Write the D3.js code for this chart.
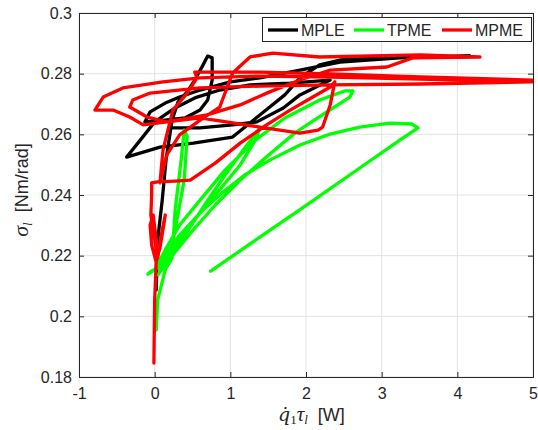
<!DOCTYPE html>
<html>
<head>
<meta charset="utf-8">
<script src="https://cdn.jsdelivr.net/npm/d3@7/dist/d3.min.js"></script>
<style>
  body { margin: 0; background: #fff; }
  text { font-family: "Liberation Sans", Arial, sans-serif; fill: #262626; }
</style>
</head>
<body>
<div id="chart"></div>
<script>
// series names / colours order as in legend
var seriesNames = ["MPLE", "TPME", "MPME"];
var seriesColors = ["#000000", "#00ff00", "#ff0000"];

var xTicks = [-1, 0, 1, 2, 3, 4, 5];
var yTicks = [0.18, 0.2, 0.22, 0.24, 0.26, 0.28, 0.3];

// MPLE (black)
var mpleX = [0.02, 0.04, 0.10, 0.15, 0.23, 0.31, 0.43, 0.53, 0.64, 0.70, 0.76, 0.76, 0.70, 0.60, 0.40, 0.14, -0.13, -0.06, 0.14, 0.33, 0.60, 1.00, 1.39, 1.92, 2.45, 3.24, 4.17, 3.24, 2.45, 2.18, 1.92, 1.72, 1.39, 1.03, 0.51, 0.07, -0.37, -0.19, 0.00, 0.27, 0.53, 0.86, 1.26, 1.79, 2.32, 1.92, 1.70, 1.35, 1.03, 0.60, 0.20];
var mpleY = [0.2087, 0.2252, 0.2383, 0.2515, 0.2647, 0.2707, 0.2740, 0.2779, 0.2829, 0.2858, 0.2852, 0.2779, 0.2713, 0.2680, 0.2654, 0.2647, 0.2641, 0.2674, 0.2703, 0.2723, 0.2746, 0.2773, 0.2786, 0.2812, 0.2838, 0.2852, 0.2858, 0.2855, 0.2845, 0.2829, 0.2786, 0.2730, 0.2664, 0.2591, 0.2571, 0.2558, 0.2525, 0.2581, 0.2641, 0.2687, 0.2720, 0.2746, 0.2763, 0.2769, 0.2779, 0.2730, 0.2687, 0.2641, 0.2631, 0.2621, 0.2621];

// TPME (green)
var tpmeX = [0.74, 1.39, 2.05, 2.71, 3.24, 3.48, 3.40, 3.11, 2.71, 2.32, 1.92, 1.52, 1.19, 0.89, 0.60, 0.33, 0.14, 0.03, -0.06, -0.09, 0.00, 0.14, 0.33, 0.60, 0.93, 1.33, 1.72, 2.18, 2.51, 2.62, 2.58, 2.25, 1.85, 1.46, 1.13, 0.80, 0.53, 0.27, 0.10, 0.04, 0.14, 0.40, 0.66, 0.93, 1.19, 1.39, 1.33, 1.13, 0.80, 0.47, 0.20, 0.07, 0.15, 0.23, 0.27, 0.35, 0.39, 0.43, 0.39, 0.27, 0.14, 0.04, 0.02];
var tpmeY = [0.2149, 0.2261, 0.2374, 0.2489, 0.2581, 0.2621, 0.2634, 0.2637, 0.2624, 0.2601, 0.2565, 0.2515, 0.2466, 0.2407, 0.2341, 0.2268, 0.2202, 0.2159, 0.2146, 0.2139, 0.2153, 0.2219, 0.2301, 0.2383, 0.2482, 0.2581, 0.2654, 0.2713, 0.2743, 0.2743, 0.2723, 0.2670, 0.2604, 0.2522, 0.2449, 0.2367, 0.2291, 0.2212, 0.2159, 0.2136, 0.2169, 0.2268, 0.2367, 0.2466, 0.2555, 0.2621, 0.2581, 0.2499, 0.2400, 0.2301, 0.2212, 0.2159, 0.2159, 0.2192, 0.2350, 0.2515, 0.2614, 0.2594, 0.2449, 0.2285, 0.2153, 0.2054, 0.1955];

// MPME (red)
var mpmeX = [-0.01, 0.00, 0.02, -0.04, -0.06, -0.02, 0.03, 0.03, 0.07, 0.12, 0.14, 0.10, 0.04, 0.00, -0.05, -0.04, -0.04, 0.04, 0.27, 0.47, 0.80, 1.13, 1.48, 1.79, 2.09, 2.32, 2.38, 2.32, 2.22, 2.16, 1.92, 1.39, 0.60, 0.03, -0.15, -0.33, -0.55, -0.79, -0.68, -0.42, 0.11, 0.60, 1.39, 2.32, 3.51, 4.99, 3.51, 2.32, 1.39, 0.60, -0.06, -0.29, -0.33, -0.10, 0.16, 0.69, 1.13, 1.52, 1.92, 2.32, 3.07, 3.41, 4.30, 3.51, 2.18, 1.56, 1.26, 1.03, 0.86, 0.60, 0.33, 0.16, 0.07, 0.11, 0.24, 0.43, 0.56, 0.53, 1.39, 2.32, 3.51, 4.99];
var mpmeY = [0.1846, 0.2054, 0.2179, 0.2235, 0.2301, 0.2334, 0.2235, 0.2192, 0.2225, 0.2301, 0.2334, 0.2285, 0.2192, 0.2252, 0.2334, 0.2400, 0.2440, 0.2443, 0.2446, 0.2449, 0.2505, 0.2571, 0.2631, 0.2680, 0.2723, 0.2756, 0.2773, 0.2697, 0.2624, 0.2614, 0.2604, 0.2624, 0.2654, 0.2637, 0.2631, 0.2657, 0.2680, 0.2680, 0.2723, 0.2753, 0.2773, 0.2786, 0.2792, 0.2789, 0.2782, 0.2773, 0.2766, 0.2763, 0.2759, 0.2753, 0.2736, 0.2713, 0.2690, 0.2657, 0.2641, 0.2664, 0.2697, 0.2740, 0.2779, 0.2812, 0.2822, 0.2852, 0.2855, 0.2862, 0.2855, 0.2868, 0.2855, 0.2802, 0.2690, 0.2647, 0.2598, 0.2532, 0.2440, 0.2548, 0.2680, 0.2736, 0.2786, 0.2805, 0.2805, 0.2799, 0.2789, 0.2779];

var W = 538, H = 430;
var margin = { left: 79, right: 5, top: 13, bottom: 53 };
var pw = W - margin.left - margin.right;
var ph = H - margin.top - margin.bottom;

var svg = d3.select("#chart").append("svg")
    .attr("width", W)
    .attr("height", H);

var x = d3.scaleLinear().domain([-1, 5]).range([0, pw]);
var y = d3.scaleLinear().domain([0.18, 0.3]).range([ph, 0]);

var g = svg.append("g").attr("transform", "translate(" + margin.left + "," + margin.top + ")");

// grid
g.append("g").selectAll("line").data(xTicks).enter().append("line")
    .attr("x1", function (d) { return x(d); })
    .attr("x2", function (d) { return x(d); })
    .attr("y1", 0).attr("y2", ph)
    .attr("stroke", "#e3e3e3").attr("stroke-width", 1);
g.append("g").selectAll("line").data(yTicks).enter().append("line")
    .attr("y1", function (d) { return y(d); })
    .attr("y2", function (d) { return y(d); })
    .attr("x1", 0).attr("x2", pw)
    .attr("stroke", "#e3e3e3").attr("stroke-width", 1);

// curves
var series = [
    { xs: mpleX, ys: mpleY },
    { xs: tpmeX, ys: tpmeY },
    { xs: mpmeX, ys: mpmeY }
];
var line = d3.line()
    .x(function (d) { return x(d[0]); })
    .y(function (d) { return y(d[1]); });

series.forEach(function (s, i) {
    var pts = s.xs.map(function (v, k) { return [v, s.ys[k]]; });
    g.append("path")
        .datum(pts)
        .attr("d", line)
        .attr("fill", "none")
        .attr("stroke", seriesColors[i])
        .attr("stroke-width", 3.3)
        .attr("stroke-linejoin", "round")
        .attr("stroke-linecap", "round");
});

// axes (MATLAB box style, ticks inward)
var tickLen = 5;
var fmt = function (d) { return String(+d.toFixed(2)); };

var xAxis = g.append("g").attr("transform", "translate(0," + ph + ")")
    .call(d3.axisBottom(x).tickValues(xTicks).tickSize(-tickLen).tickPadding(11).tickFormat(fmt));
var xTop = g.append("g")
    .call(d3.axisTop(x).tickValues(xTicks).tickSize(-tickLen).tickFormat(""));
var yAxis = g.append("g")
    .call(d3.axisLeft(y).tickValues(yTicks).tickSize(-tickLen).tickPadding(7).tickFormat(fmt));
var yRight = g.append("g").attr("transform", "translate(" + pw + ",0)")
    .call(d3.axisRight(y).tickValues(yTicks).tickSize(-tickLen).tickFormat(""));

[xAxis, xTop, yAxis, yRight].forEach(function (a) {
    a.select(".domain").attr("stroke", "#262626").attr("stroke-width", 1);
    a.selectAll(".tick line").attr("stroke", "#262626");
    a.selectAll("text").attr("font-size", 16).attr("fill", "#262626")
        .attr("font-family", "'Liberation Sans', Arial, sans-serif");
});

// axis labels
var xl = svg.append("text")
    .attr("x", 278).attr("y", 421)
    .attr("font-size", 18);
xl.append("tspan").attr("font-family", "'DejaVu Serif', serif").attr("font-style", "italic").attr("font-size", 19).text("q\u0307");
xl.append("tspan").attr("font-family", "'Liberation Serif', serif").attr("font-size", 13).attr("dy", 3).text("1");
xl.append("tspan").attr("font-family", "'Liberation Serif', serif").attr("font-style", "italic").attr("font-size", 21).attr("dy", -3).text("τ");
xl.append("tspan").attr("font-family", "'Liberation Serif', serif").attr("font-style", "italic").attr("font-size", 13).attr("dy", 3).text("l");
xl.append("tspan").attr("dy", -3).text("\u00a0\u00a0[W]");

var yl = svg.append("text")
    .attr("transform", "translate(28,190) rotate(-90)")
    .attr("text-anchor", "middle")
    .attr("font-size", 18);
yl.append("tspan").attr("font-family", "'Liberation Serif', serif").attr("font-style", "italic").attr("font-size", 22).text("σ");
yl.append("tspan").attr("font-family", "'Liberation Serif', serif").attr("font-style", "italic").attr("font-size", 13).attr("dy", 4).text("l");
yl.append("tspan").attr("dy", -4).text("\u00a0\u00a0[Nm/rad]");

// legend
var lg = svg.append("g");
lg.append("rect")
    .attr("x", 262.5).attr("y", 17.5).attr("width", 269).attr("height", 24)
    .attr("fill", "#fff").attr("stroke", "#262626").attr("stroke-width", 1);
var legX = [268, 354, 442];
seriesNames.forEach(function (n, i) {
    lg.append("line")
        .attr("x1", legX[i]).attr("x2", legX[i] + 30)
        .attr("y1", 30).attr("y2", 30)
        .attr("stroke", seriesColors[i]).attr("stroke-width", 3.3);
    lg.append("text")
        .attr("x", legX[i] + 33).attr("y", 36)
        .attr("font-size", 16)
        .text(n);
});
</script>
</body>
</html>
